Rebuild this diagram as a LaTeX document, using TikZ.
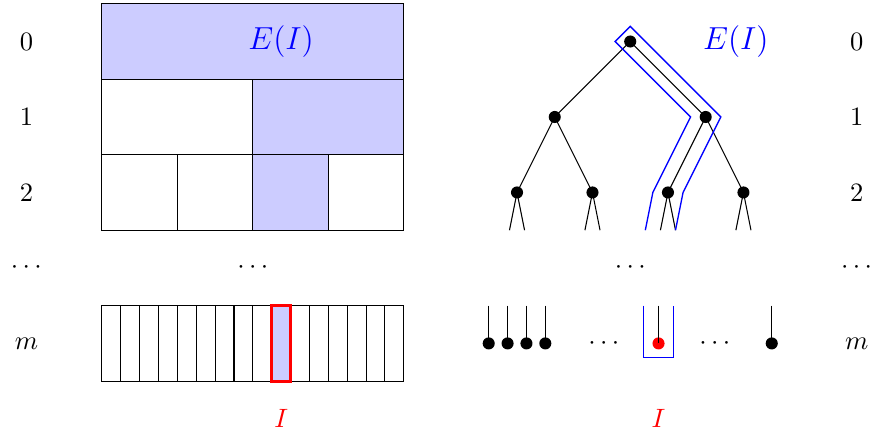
\documentclass[tikz,border=0pt]{standalone}
\usetikzlibrary{positioning}
\begin{document}
\begin{tikzpicture}[
    dot/.style={circle, fill=black, inner sep=0pt, minimum size=0.16cm},
    hit/.style={fill=blue!20},
    trail/.style={blue, line width=0.5pt},
    elabel/.style={blue, font=\large}]
  \useasboundingbox (-1.35,0.05) rectangle (10.19,-5.7);
  % array side
  \fill[hit] (0,0) rectangle (4,-1);
  \fill[hit] (2,-1) rectangle (4,-2);
  \fill[hit] (2,-2) rectangle (3,-3);
  \fill[hit] (2.25,-4) rectangle (2.5,-5);
  \draw (0,0) rectangle (4,-3);
  \draw (0,-1) -- (4,-1) (0,-2) -- (4,-2);
  \draw (2,-1) -- (2,-3) (1,-2) -- (1,-3) (3,-2) -- (3,-3);
  \draw (0,-4) rectangle (4,-5);
  \foreach \i in {1,...,15} \draw (\i*0.25,-4) -- (\i*0.25,-5);
  \draw[red, line width=1.1pt] (2.25,-4) rectangle (2.5,-5);
  \node[elabel] (eleft) at (2.375,-0.5) {$E(I)$};
  \node[red] (ileft) at (2.375,-5.5) {$I$};
  \node (dleft) at (2,-3.5) {$\cdots$};
  % level labels
  \foreach \l/\y in {0/-0.5, 1/-1.5, 2/-2.5, m/-4.5} {
    \node (l\l) at (-1,\y) {$\l$};
    \node (r\l) at (10,\y) {$\l$};
  }
  \node (ldots) at (-1,-3.5) {$\cdots$};
  \node (rdots) at (10,-3.5) {$\cdots$};
  % tree side
  \node[dot] (t) at (7,-0.5) {};
  \node[dot] (ta) at (6,-1.5) {};
  \node[dot] (tb) at (8,-1.5) {};
  \node[dot] (taa) at (5.5,-2.5) {};
  \node[dot] (tab) at (6.5,-2.5) {};
  \node[dot] (tba) at (7.5,-2.5) {};
  \node[dot] (tbb) at (8.5,-2.5) {};
  \draw (t.center) -- (ta.center) (t.center) -- (tb.center);
  \draw (ta.center) -- (taa.center) (ta.center) -- (tab.center);
  \draw (tb.center) -- (tba.center) (tb.center) -- (tbb.center);
  \foreach \n/\x in {taa/5.5, tab/6.5, tba/7.5, tbb/8.5} {
    \coordinate (\n-l) at ({\x-0.1},-3);
    \coordinate (\n-r) at ({\x+0.1},-3);
    \draw (\n.center) -- (\n-l) (\n.center) -- (\n-r);
  }
  \node (dtree) at (7,-3.5) {$\cdots$};
  \node[elabel] (eright) at (8.4,-0.5) {$E(I)$};
  % leaves
  \foreach \i in {0,1,2,3,15} {
    \coordinate (s\i) at ({5.125+0.25*\i},-4);
    \node[dot] (leaf\i) at ({5.125+0.25*\i},-4.5) {};
    \draw (s\i) -- (leaf\i.center);
  }
  \coordinate (s9) at (7.375,-4);
  \node[dot, fill=red] (leaf9) at (7.375,-4.5) {};
  \draw (s9) -- (leaf9.center);
  \node (dl1) at (6.65,-4.5) {$\cdots$};
  \node (dl2) at (8.12,-4.5) {$\cdots$};
  \node[red] (iright) at (7.375,-5.5) {$I$};
  % path to I
  \draw[trail] (7.2,-3) -- (7.3,-2.5) -- (7.8,-1.5) -- (6.8,-0.5) -- (7,-0.3)
    -- (8.2,-1.5) -- (7.7,-2.5) -- (7.6,-3);
  \draw[trail] (7.175,-4) -- (7.175,-4.69) -- (7.575,-4.69) -- (7.575,-4);
\end{tikzpicture}
\end{document}
